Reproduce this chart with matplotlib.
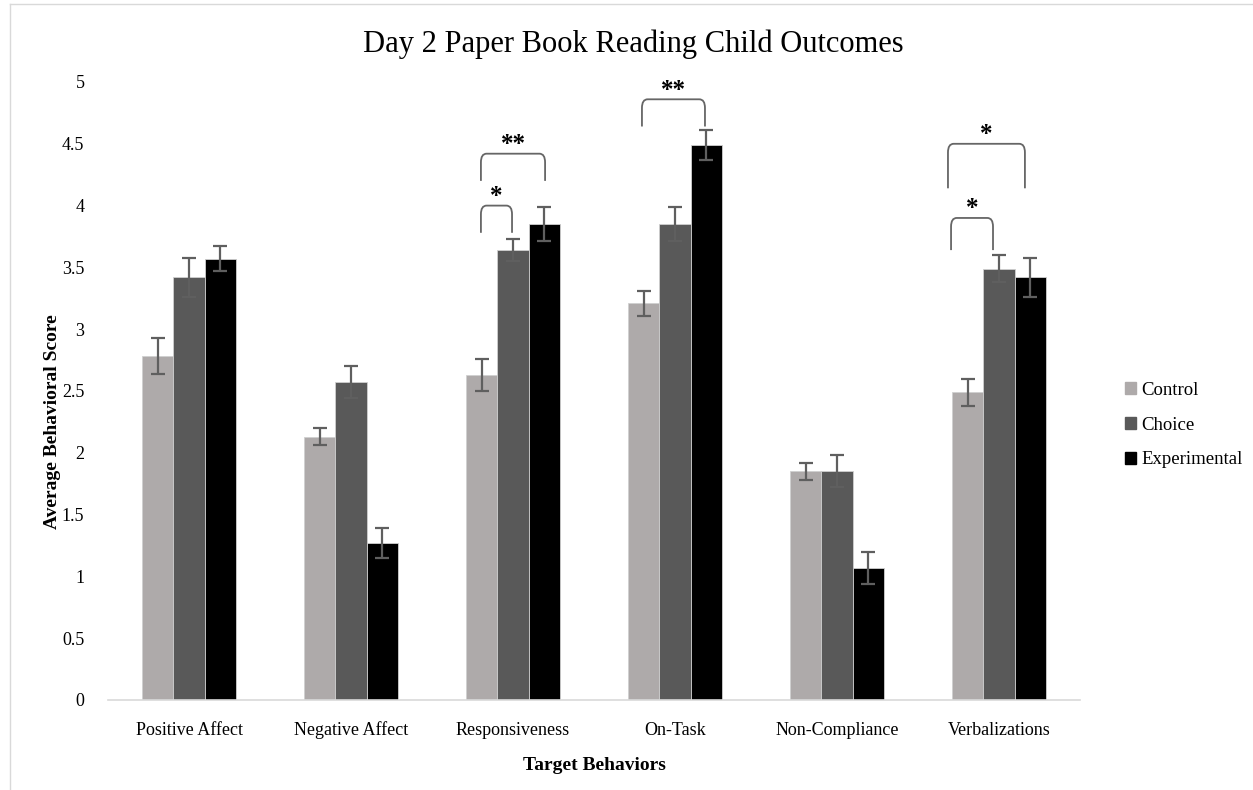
import numpy as np
import matplotlib.pyplot as plt
from matplotlib.path import Path
from matplotlib.patches import PathPatch
from matplotlib.lines import Line2D
from matplotlib.ticker import FormatStrFormatter

plt.rcParams["font.family"] = ["Liberation Serif", "DejaVu Serif"]

categories = ["Positive Affect", "Negative Affect", "Responsiveness",
              "On-Task", "Non-Compliance", "Verbalizations"]
groups = ["Control", "Choice", "Experimental"]

control = [2.78, 2.13, 2.63, 3.21, 1.85, 2.49]
choice = [3.42, 2.57, 3.64, 3.85, 1.85, 3.49]
experimental = [3.57, 1.27, 3.85, 4.49, 1.07, 3.42]

control_err = [0.145, 0.07, 0.13, 0.10, 0.07, 0.11]
choice_err = [0.16, 0.13, 0.09, 0.14, 0.13, 0.11]
experimental_err = [0.10, 0.12, 0.14, 0.12, 0.13, 0.16]

# significance brackets: category index, left/right offset, top, leg end, label
brackets = [
    (2, -0.198, 0.198, 4.42, 4.20, "**"),
    (2, -0.198, -0.006, 4.00, 3.78, "*"),
    (3, -0.204, 0.185, 4.86, 4.64, "**"),
    (5, -0.315, 0.160, 4.50, 4.14, "*"),
    (5, -0.296, -0.037, 3.90, 3.64, "*"),
]

colors = ["#aeaaaa", "#595959", "#000000"]
series = [control, choice, experimental]
errs = [control_err, choice_err, experimental_err]

fig = plt.figure(figsize=(12.53, 7.9), dpi=100)
ax = fig.add_axes([108 / 1253, 1 - 700 / 790, 972 / 1253, 618 / 790])

x = np.arange(len(categories))
width = 0.193
for i, (vals, err, col) in enumerate(zip(series, errs, colors)):
    pos = x + (i - 1) * width
    ax.bar(pos, vals, width, color=col, edgecolor="#d0d0d0", linewidth=0.6,
           label=groups[i], zorder=2)
    ax.errorbar(pos, vals, yerr=err, fmt="none", ecolor="#5f5f5f",
                elinewidth=1.6, capsize=5, capthick=1.6, zorder=3)


def draw_bracket(ax, x0, x1, top, leg, rx=0.035, ry=0.07):
    verts = [(x0, leg), (x0, top - ry), (x0, top), (x0 + rx, top),
             (x1 - rx, top), (x1, top), (x1, top - ry), (x1, leg)]
    codes = [Path.MOVETO, Path.LINETO, Path.CURVE3, Path.CURVE3,
             Path.LINETO, Path.CURVE3, Path.CURVE3, Path.LINETO]
    ax.add_patch(PathPatch(Path(verts, codes), fill=False,
                           edgecolor="#666666", linewidth=1.3, zorder=4))


for cat, off0, off1, top, leg, label in brackets:
    x0, x1 = cat + off0, cat + off1
    draw_bracket(ax, x0, x1, top, leg)
    ax.text((x0 + x1) / 2, top + 0.075, label, ha="center", va="center",
            fontsize=18, fontweight="bold", color="black")

ax.set_xlim(-0.5, len(categories) - 0.5)
ax.set_ylim(0, 5)
ax.set_yticks(np.arange(0, 5.01, 0.5))
ax.yaxis.set_major_formatter(FormatStrFormatter("%g"))
ax.set_xticks(x)
ax.set_xticklabels(categories)
ax.tick_params(axis="both", length=0, labelsize=13)
ax.tick_params(axis="y", pad=17)
ax.tick_params(axis="x", pad=25)
for lbl in ax.get_xticklabels():
    lbl.set_verticalalignment("baseline")
for side in ["top", "right", "left"]:
    ax.spines[side].set_visible(False)
ax.spines["bottom"].set_color("#d9d9d9")
ax.spines["bottom"].set_linewidth(1.2)

fig.text(633 / 1253, 1 - 44 / 790, "Day 2 Paper Book Reading Child Outcomes",
         ha="center", va="center", fontsize=22)
fig.text(594 / 1253, 1 - 765 / 790, "Target Behaviors", ha="center",
         va="center", fontsize=14, fontweight="bold")
fig.text(53 / 1253, 1 - 422 / 790, "Average Behavioral Score", ha="center",
         va="center", rotation=90, fontsize=14, fontweight="bold")

handles = [plt.Rectangle((0, 0), 1, 1, color=c) for c in colors]
fig.legend(handles, groups, loc="center left",
           bbox_to_anchor=(1108 / 1253, 1 - 425 / 790), frameon=False,
           fontsize=13.5, handlelength=0.6, handleheight=0.6,
           handletextpad=0.3, labelspacing=0.95)

# thin chart-area frame on the left and top edges
fig.add_artist(Line2D([10 / 1253, 10 / 1253], [0, 1 - 4 / 790],
                      color="#d9d9d9", linewidth=1, transform=fig.transFigure))
fig.add_artist(Line2D([10 / 1253, 1], [1 - 4 / 790, 1 - 4 / 790],
                      color="#d9d9d9", linewidth=1, transform=fig.transFigure))

fig.savefig("out.png", dpi=100)
